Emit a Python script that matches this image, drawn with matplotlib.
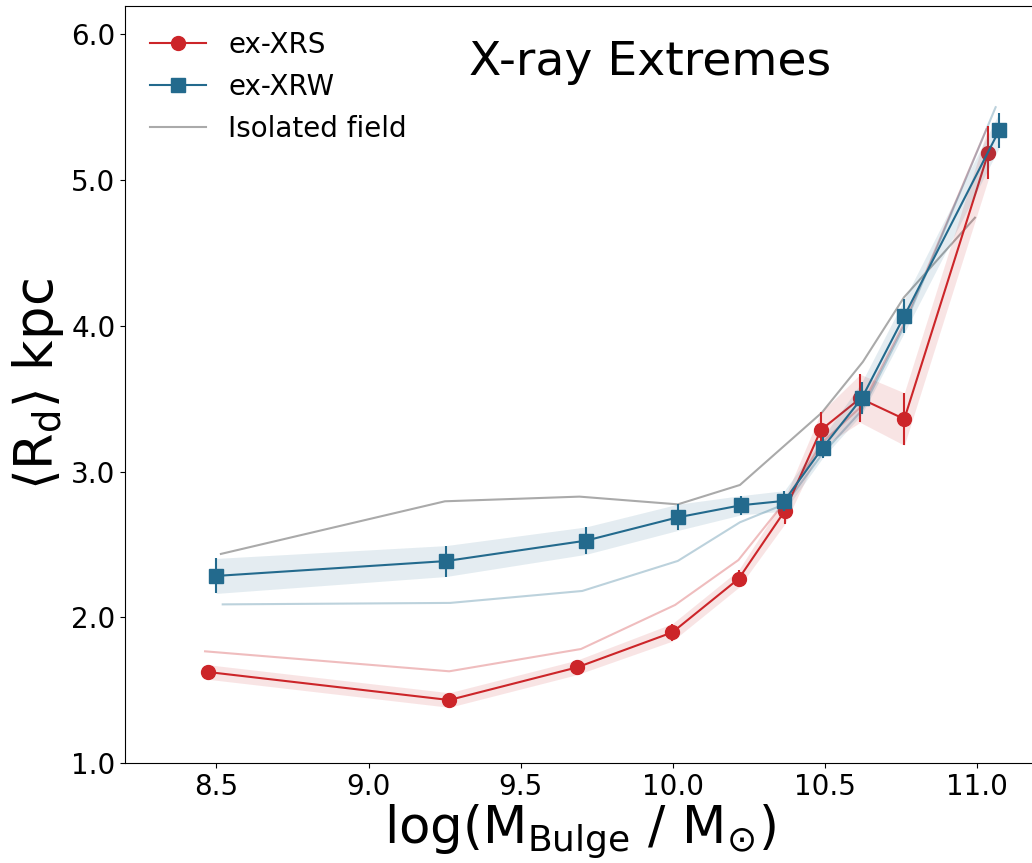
import matplotlib
matplotlib.use("Agg")
import matplotlib.pyplot as plt
from matplotlib.lines import Line2D

# ex-XRS sample: bulge mass bins, mean disc scale length and its error
xrs_mass = [8.473, 9.265, 9.685, 9.998, 10.216, 10.368, 10.486, 10.615, 10.760, 11.036]
xrs_rd = [1.626, 1.434, 1.658, 1.898, 2.266, 2.733, 3.286, 3.503, 3.361, 5.188]
xrs_err = [0.05, 0.05, 0.05, 0.06, 0.06, 0.09, 0.12, 0.165, 0.18, 0.18]

# ex-XRW sample
xrw_mass = [8.499, 9.254, 9.714, 10.016, 10.224, 10.366, 10.492, 10.620, 10.760, 11.072]
xrw_rd = [2.285, 2.387, 2.527, 2.687, 2.770, 2.800, 3.165, 3.503, 4.068, 5.343]
xrw_err = [0.12, 0.106, 0.094, 0.09, 0.066, 0.07, 0.07, 0.11, 0.115, 0.12]

# matched comparison curves for each sample
xrs_ref_mass = [8.463, 9.265, 9.698, 10.007, 10.215, 10.37, 10.49, 10.62, 10.76, 11.03]
xrs_ref_rd = [1.768, 1.631, 1.784, 2.086, 2.394, 2.80, 3.20, 3.45, 4.02, 5.35]
xrw_ref_mass = [8.521, 9.268, 9.702, 10.016, 10.22, 10.37, 10.49, 10.62, 10.76, 11.06]
xrw_ref_rd = [2.09, 2.10, 2.182, 2.388, 2.653, 2.78, 3.12, 3.42, 4.00, 5.50]

# isolated field galaxies
iso_mass = [8.515, 9.251, 9.693, 10.016, 10.22, 10.489, 10.624, 10.759, 10.992]
iso_rd = [2.436, 2.797, 2.829, 2.776, 2.909, 3.405, 3.754, 4.196, 4.742]

RED = "#cc2529"
BLUE = "#236a8d"
GRAY = "#aaaaaa"

W, H = 1032, 863
fig = plt.figure(figsize=(W / 100, H / 100), dpi=100)
left, right, top, bottom = 125.3, 1034.0, 6.0, 763.3
ax = fig.add_axes([left / W, (H - bottom) / H, (right - left) / W, (bottom - top) / H])

# comparison curves
ax.plot(xrs_ref_mass, xrs_ref_rd, color=RED, alpha=0.3, lw=1.5, zorder=1)
ax.plot(xrw_ref_mass, xrw_ref_rd, color=BLUE, alpha=0.3, lw=1.5, zorder=1)
ax.plot(iso_mass, iso_rd, color=GRAY, lw=1.5, zorder=2)

# ex-XRS
lo = [y - e for y, e in zip(xrs_rd, xrs_err)]
hi = [y + e for y, e in zip(xrs_rd, xrs_err)]
ax.fill_between(xrs_mass, lo, hi, color=RED, alpha=0.12, lw=0, zorder=3)
ax.errorbar(xrs_mass, xrs_rd, yerr=xrs_err, color=RED, marker="o", ms=10,
            lw=1.5, elinewidth=1.5, capsize=0, zorder=4)

# ex-XRW
lo = [y - e for y, e in zip(xrw_rd, xrw_err)]
hi = [y + e for y, e in zip(xrw_rd, xrw_err)]
ax.fill_between(xrw_mass, lo, hi, color=BLUE, alpha=0.12, lw=0, zorder=5)
ax.errorbar(xrw_mass, xrw_rd, yerr=xrw_err, color=BLUE, marker="s", ms=10.5,
            lw=1.5, elinewidth=1.5, capsize=0, zorder=6)

ax.set_xlim(8.201, 11.186)
ax.set_ylim(1.0, 6.194)
ax.set_xticks([8.5, 9.0, 9.5, 10.0, 10.5, 11.0])
ax.set_yticks([1, 2, 3, 4, 5, 6])
ax.set_yticklabels(["1.0", "2.0", "3.0", "4.0", "5.0", "6.0"])
ax.tick_params(labelsize=20)

ax.set_xlabel(r"$\mathregular{log(M_{Bulge}\ /\ M_{\odot})}$", fontsize=37,
              labelpad=1)
ax.set_ylabel(r"$\mathregular{\langle R_d\rangle}$ kpc", fontsize=38)

ax.text(0.5776, 0.909, "X-ray Extremes", transform=ax.transAxes,
        ha="center", va="baseline", fontsize=34)

handles = [
    Line2D([], [], color=RED, marker="o", ms=10, lw=1.5),
    Line2D([], [], color=BLUE, marker="s", ms=10.5, lw=1.5),
    Line2D([], [], color=GRAY, lw=1.5),
]
ax.legend(handles, ["ex-XRS", "ex-XRW", "Isolated field"], loc="upper left",
          frameon=False, fontsize=20)

fig.savefig("out.png", dpi=100)
